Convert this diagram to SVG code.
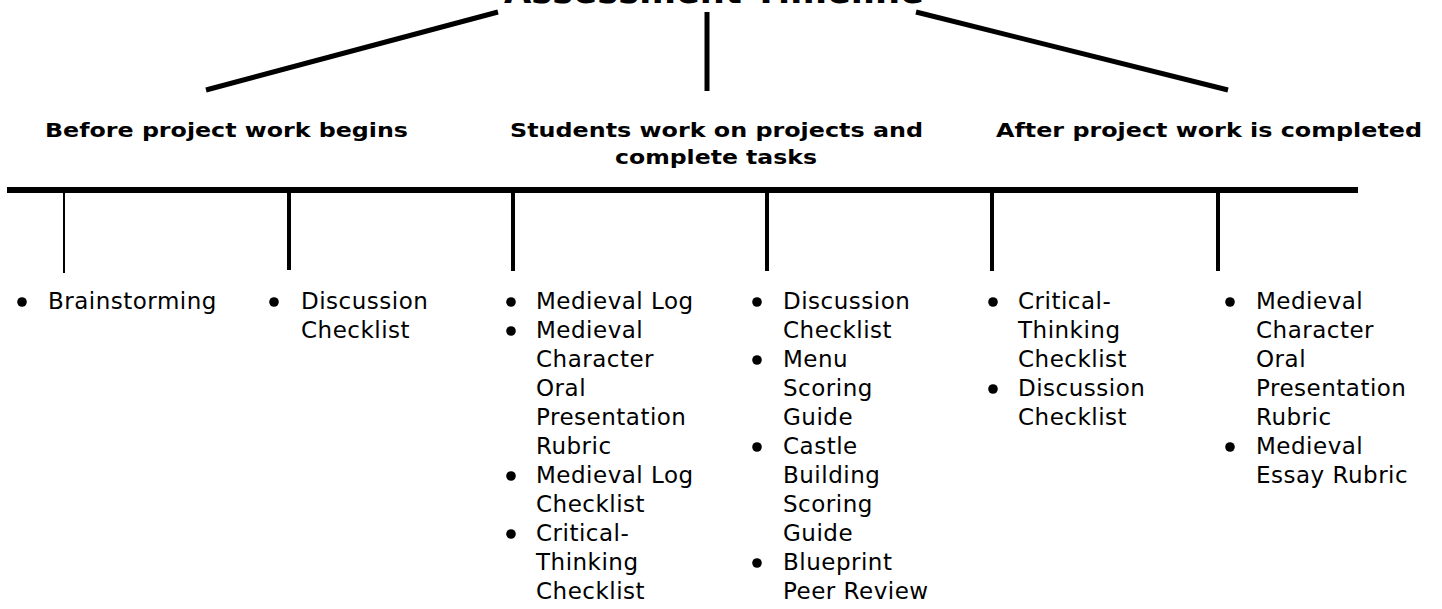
<svg xmlns="http://www.w3.org/2000/svg" width="1442" height="609" viewBox="0 0 1442 609">
<style>
.ln{stroke:#000;stroke-linecap:butt;fill:none}
.title{font-family:"DejaVu Sans","Verdana",sans-serif;font-weight:bold;font-size:35px;fill:#000}
.hd{font-family:"DejaVu Sans","Verdana",sans-serif;font-weight:bold;font-size:20px;fill:#000}
.tx{font-family:"DejaVu Sans","Verdana",sans-serif;font-size:23px;letter-spacing:0.5px;fill:#000}
.bl{fill:#000}
</style>
<rect width="1442" height="609" fill="#fff"/>
<g id="title"><text class="title" x="714" y="3" text-anchor="middle" textLength="420" lengthAdjust="spacingAndGlyphs">Assessment Timeline</text></g>
<g id="connectors">
<line class="ln" x1="206" y1="90" x2="498" y2="12" stroke-width="5"/>
<line class="ln" x1="707" y1="12" x2="707" y2="91" stroke-width="5"/>
<line class="ln" x1="916" y1="12" x2="1228" y2="90" stroke-width="5"/>
<line class="ln" x1="7" y1="190" x2="1358" y2="190" stroke-width="6"/>
<line class="ln" x1="64" y1="190" x2="64" y2="273" stroke-width="2"/>
<line class="ln" x1="289" y1="190" x2="289" y2="270" stroke-width="4"/>
<line class="ln" x1="513" y1="190" x2="513" y2="271" stroke-width="4"/>
<line class="ln" x1="767" y1="190" x2="767" y2="271" stroke-width="4"/>
<line class="ln" x1="992" y1="190" x2="992" y2="271" stroke-width="4"/>
<line class="ln" x1="1218" y1="190" x2="1218" y2="271" stroke-width="4"/>
</g>
<g id="phase-before"><text class="hd" x="226.5" y="137" text-anchor="middle" textLength="363" lengthAdjust="spacingAndGlyphs">Before project work begins</text></g>
<g id="phase-during"><text class="hd" x="716.5" y="137" text-anchor="middle" textLength="413" lengthAdjust="spacingAndGlyphs">Students work on projects and</text><text class="hd" x="716" y="164" text-anchor="middle" textLength="202" lengthAdjust="spacingAndGlyphs">complete tasks</text></g>
<g id="phase-after"><text class="hd" x="1209" y="137" text-anchor="middle" textLength="426" lengthAdjust="spacingAndGlyphs">After project work is completed</text></g>
<g id="list1">
<circle class="bl" cx="22" cy="302" r="4.8"/>
<text class="tx" x="48" y="309">Brainstorming</text>
</g>
<g id="list2">
<circle class="bl" cx="274" cy="302" r="4.8"/>
<text class="tx" x="301" y="309">Discussion</text>
<text class="tx" x="301" y="338">Checklist</text>
</g>
<g id="list3">
<circle class="bl" cx="511" cy="302" r="4.8"/>
<circle class="bl" cx="511" cy="331" r="4.8"/>
<circle class="bl" cx="511" cy="476" r="4.8"/>
<circle class="bl" cx="511" cy="534" r="4.8"/>
<text class="tx" x="536" y="309">Medieval Log</text>
<text class="tx" x="536" y="338">Medieval</text>
<text class="tx" x="536" y="367">Character</text>
<text class="tx" x="536" y="396">Oral</text>
<text class="tx" x="536" y="425">Presentation</text>
<text class="tx" x="536" y="454">Rubric</text>
<text class="tx" x="536" y="483">Medieval Log</text>
<text class="tx" x="536" y="512">Checklist</text>
<text class="tx" x="536" y="541">Critical-</text>
<text class="tx" x="536" y="570">Thinking</text>
<text class="tx" x="536" y="599">Checklist</text>
</g>
<g id="list4">
<circle class="bl" cx="757" cy="302" r="4.8"/>
<circle class="bl" cx="757" cy="360" r="4.8"/>
<circle class="bl" cx="757" cy="447" r="4.8"/>
<circle class="bl" cx="757" cy="563" r="4.8"/>
<text class="tx" x="783" y="309">Discussion</text>
<text class="tx" x="783" y="338">Checklist</text>
<text class="tx" x="783" y="367">Menu</text>
<text class="tx" x="783" y="396">Scoring</text>
<text class="tx" x="783" y="425">Guide</text>
<text class="tx" x="783" y="454">Castle</text>
<text class="tx" x="783" y="483">Building</text>
<text class="tx" x="783" y="512">Scoring</text>
<text class="tx" x="783" y="541">Guide</text>
<text class="tx" x="783" y="570">Blueprint</text>
<text class="tx" x="783" y="599">Peer Review</text>
</g>
<g id="list5">
<circle class="bl" cx="993" cy="302" r="4.8"/>
<circle class="bl" cx="993" cy="389" r="4.8"/>
<text class="tx" x="1018" y="309">Critical-</text>
<text class="tx" x="1018" y="338">Thinking</text>
<text class="tx" x="1018" y="367">Checklist</text>
<text class="tx" x="1018" y="396">Discussion</text>
<text class="tx" x="1018" y="425">Checklist</text>
</g>
<g id="list6">
<circle class="bl" cx="1230" cy="302" r="4.8"/>
<circle class="bl" cx="1230" cy="447" r="4.8"/>
<text class="tx" x="1256" y="309">Medieval</text>
<text class="tx" x="1256" y="338">Character</text>
<text class="tx" x="1256" y="367">Oral</text>
<text class="tx" x="1256" y="396">Presentation</text>
<text class="tx" x="1256" y="425">Rubric</text>
<text class="tx" x="1256" y="454">Medieval</text>
<text class="tx" x="1256" y="483">Essay Rubric</text>
</g>
</svg>
